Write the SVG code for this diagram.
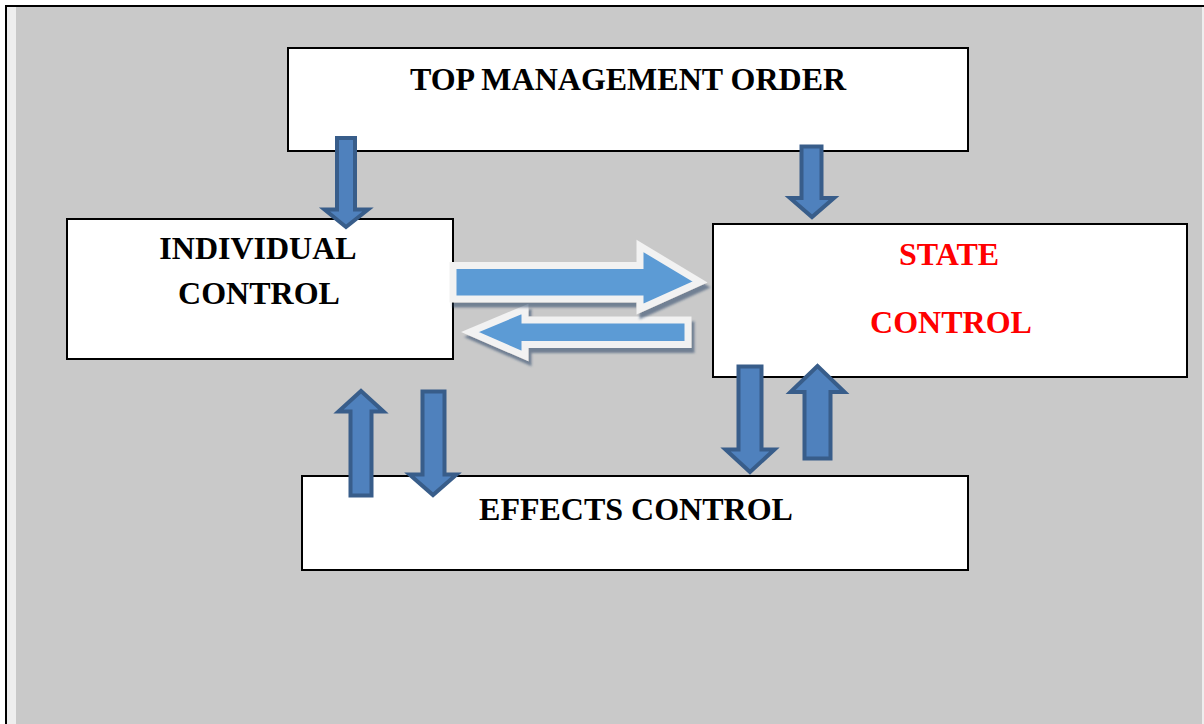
<svg xmlns="http://www.w3.org/2000/svg" width="1204" height="724" viewBox="0 0 1204 724">
<style>
.box{fill:#fff;stroke:#000;stroke-width:2}
.t{font-family:"Liberation Serif","Times New Roman",serif;font-weight:bold;font-size:32px;text-anchor:middle;fill:#000}
.red{fill:#ff0000}
.va{fill:#4f81bd;stroke:#385d8a;stroke-width:4;stroke-linejoin:miter}
.ha{fill:#5b9bd5;stroke:#f2f2f2;stroke-width:7;stroke-linejoin:miter;filter:url(#sh)}
</style>
<defs>
<filter id="sh" x="-10%" y="-20%" width="130%" height="160%">
<feDropShadow dx="3" dy="5" stdDeviation="1" flood-color="#2a4466" flood-opacity="0.55"/>
</filter>
</defs>
<rect x="0" y="0" width="1204" height="724" fill="#fff"/>
<rect x="7" y="7" width="1197" height="717" fill="#eeeeee"/>
<rect x="16" y="7" width="1186" height="717" fill="#c9c9c9"/>
<rect x="5" y="5" width="2" height="719" fill="#000"/>
<rect x="5" y="5" width="1199" height="2" fill="#000"/>

<g id="top-management-order">
<rect class="box" x="288" y="48" width="680" height="103"/>
<text class="t" x="628" y="90">TOP MANAGEMENT ORDER</text>
</g>
<g id="individual-control">
<rect class="box" x="67" y="219" width="386" height="140"/>
<text class="t" x="258" y="259">INDIVIDUAL</text>
<text class="t" x="259" y="304">CONTROL</text>
</g>
<g id="state-control">
<rect class="box" x="713" y="224" width="474" height="153"/>
<text class="t red" x="949" y="265">STATE</text>
<text class="t red" x="951" y="333">CONTROL</text>
</g>
<g id="effects-control">
<rect class="box" x="302" y="476" width="666" height="94"/>
<text class="t" x="636" y="520">EFFECTS CONTROL</text>
</g>

<g id="connectors">
<path class="va" d="M337,138 H355 V209.5 H368 L346,227 L324.5,209.5 H337 Z"/>
<path class="va" d="M801.5,146.5 H821.5 V198 H834 L812,217 L790,198 H801.5 Z"/>
<path class="va" d="M738.5,366.5 H761.5 V449.5 H774.5 L750,472 L725.5,449.5 H738.5 Z"/>
<path class="va" d="M804.5,458.5 H830.5 V392 H844.5 L817.5,366 L790.5,392 H804.5 Z"/>
<path class="va" d="M350.5,495.5 H371.5 V411.5 H383.5 L361,391 L338.5,411.5 H350.5 Z"/>
<path class="va" d="M422.5,391.5 H444.5 V474.5 H456.5 L433,495 L409.5,474.5 H422.5 Z"/>
<path class="ha" d="M688,320 H525 V309 L470,332 L525,356 V344.5 H688 Z"/>
<path class="ha" d="M453,265.5 H640 V246 L700,282 L640,309 V299 H453 Z"/>
</g>
</svg>
